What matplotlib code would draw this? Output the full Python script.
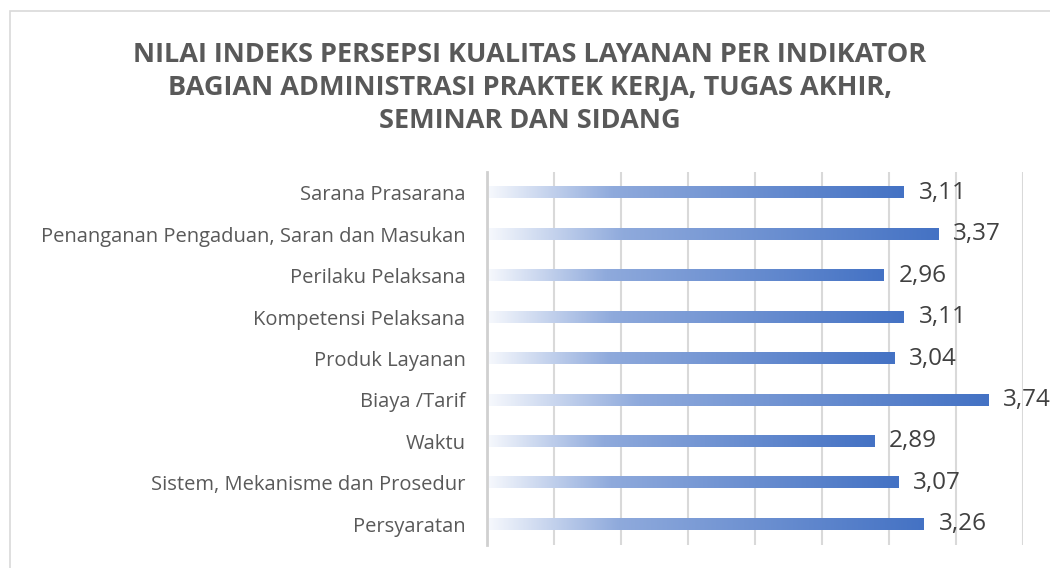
import numpy as np
import matplotlib.pyplot as plt
from matplotlib.colors import LinearSegmentedColormap
from matplotlib.patches import Rectangle

categories = ["Persyaratan", "Sistem, Mekanisme dan Prosedur", "Waktu", "Biaya /Tarif",
              "Produk Layanan", "Kompetensi Pelaksana", "Perilaku Pelaksana",
              "Penanganan Pengaduan, Saran dan Masukan", "Sarana Prasarana"]
values = [3.26, 3.07, 2.89, 3.74, 3.04, 3.11, 2.96, 3.37, 3.11]
title = ("NILAI INDEKS PERSEPSI KUALITAS LAYANAN PER INDIKATOR\n"
         "BAGIAN ADMINISTRASI PRAKTEK KERJA, TUGAS AKHIR,\n"
         "SEMINAR DAN SIDANG")

plt.rcParams['font.family'] = ['Open Sans', 'DejaVu Sans']

fig = plt.figure(figsize=(10.5, 5.68), dpi=100)
# chart frame (only left and top edges visible in the crop)
fig.patches.append(Rectangle((9.5 / 1050, -0.2), 1.2, (568 - 11) / 568 + 0.2, transform=fig.transFigure,
                             fill=False, edgecolor='#D9D9D9', linewidth=1.2))
ax = fig.add_axes([487 / 1050, 23 / 568, 536 / 1050, 373 / 568])

cmap = LinearSegmentedColormap.from_list('bar', [(0, '#F7F9FD'), (0.3, '#8FAADC'), (1, '#4472C4')])
grad = np.linspace(0, 1, 256).reshape(1, -1)
bar_h = 0.27
for i, v in enumerate(values):
    ax.imshow(grad, cmap=cmap, extent=(0, v, i - bar_h / 2, i + bar_h / 2),
              aspect='auto', interpolation='bicubic', zorder=2)
    ax.text(v + 0.11, i, f"{v:.2f}".replace('.', ','), va='center', ha='left',
            fontsize=17.5, color='#404040')

ax.set_xlim(0, 4.0)
ax.set_ylim(-0.5, len(values) - 0.5)
ax.set_xticks(np.arange(0, 4.01, 0.5))
ax.set_xticklabels([])
ax.set_yticks(range(len(categories)))
ax.set_yticklabels(categories, fontsize=14.5, color='#595959')
ax.tick_params(axis='y', length=0, pad=15.5)
ax.tick_params(axis='x', length=0)
ax.grid(axis='x', color='#D9D9D9', linewidth=1.5, zorder=0)
for s in ['top', 'right', 'bottom']:
    ax.spines[s].set_visible(False)
ax.spines['left'].set_color('#D0D0D0')
ax.spines['left'].set_linewidth(2)

fig.text(530 / 1050, 1 - 88 / 568, title, ha='center', va='center', fontsize=19.5,
         fontweight='bold', color='#595959', linespacing=1.35)

fig.savefig('out.png', dpi=100)
